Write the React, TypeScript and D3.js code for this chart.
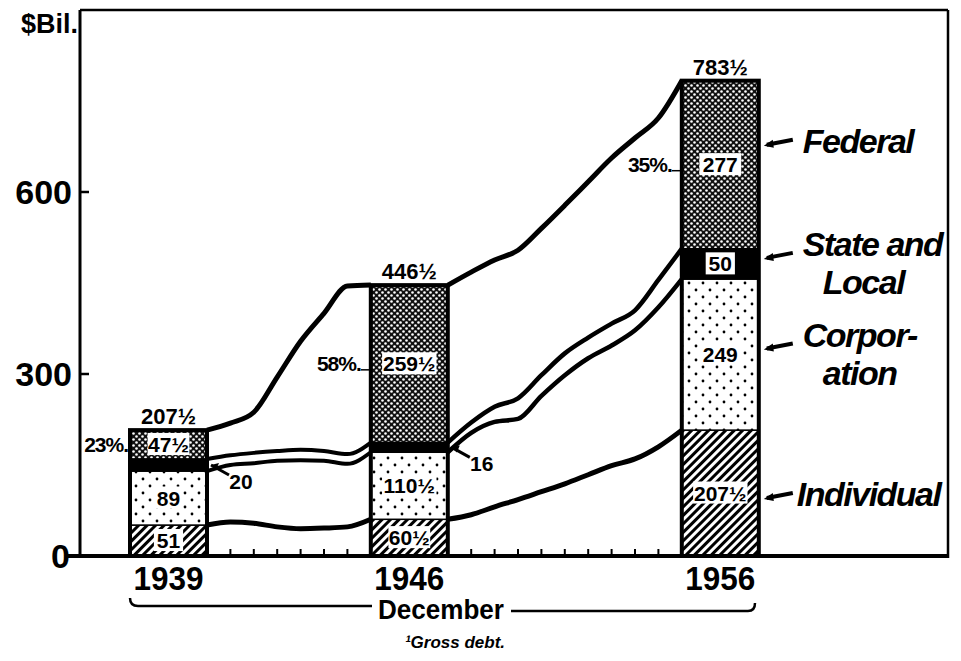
import React from 'react';
import * as d3 from 'd3';

// ---- data (billions of dollars, December) ----
const years = [1939, 1946, 1956];
const individual = [51, 60.5, 207.5];
const corporation = [89, 110.5, 249];
const stateLocal = [20, 16, 50];
const federal = [47.5, 259.5, 277];
const totalLabels = ['207½', '446½', '783½'];
const individualLabels = ['51', '60½', '207½'];
const corporationLabels = ['89', '110½', '249'];
const stateLabels = ['20', '16', '50'];
const federalLabels = ['47½', '259½', '277'];
const federalShare = ['23%.', '58%.', '35%.'];
const yTicks = [0, 300, 600];

// annual lines between bars
const years1 = [1939, 1940, 1941, 1942, 1943, 1944, 1945, 1946];
const total1 = [207.5, 219, 237, 295, 354, 400, 445, 446.5];
const stateTop1 = [160, 166, 170, 173, 175, 173, 168, 187];
const corpTop1 = [140, 150, 153, 157, 158, 157, 152, 171];
const indiv1 = [51, 56, 54, 48, 45, 46, 48, 60.5];

const years2 = [1946, 1947, 1948, 1949, 1950, 1951, 1952, 1953, 1954, 1955, 1956];
const total2 = [446.5, 468, 488, 504, 540, 578, 617, 656, 689, 722, 783.5];
const stateTop2 = [187, 220, 246, 260, 298, 334, 360, 383, 405, 455, 506.5];
const corpTop2 = [171, 203, 221, 226, 264, 298, 326, 347, 372, 410, 456.5];
const indiv2 = [60.5, 68, 81, 93, 106, 119, 134, 149, 160, 180, 207.5];

const legendNames = [['Individual'], ['Corpor-', 'ation'], ['State and', 'Local'], ['Federal']];

const FONT = '"Liberation Sans", Arial, sans-serif';

export default function App() {
  const y = d3.scaleLinear().domain([0, 600]).range([556, 192]);
  const barW = 77;
  const perYear = 23.4;
  const firstLeft = 130;
  const barLeft = years.map((yr, i) => firstLeft + i * barW + (yr - years[0]) * perYear);
  const segX = [0, 1].map((i) =>
    d3.scaleLinear().domain([years[i], years[i + 1]]).range([barLeft[i] + barW, barLeft[i + 1]])
  );

  const keys = ['individual', 'corporation', 'stateLocal', 'federal'];
  const table = years.map((yr, i) => ({
    year: yr,
    individual: individual[i],
    corporation: corporation[i],
    stateLocal: stateLocal[i],
    federal: federal[i],
  }));
  const series = d3.stack<any>().keys(keys)(table);
  const fills = ['url(#pIndiv)', 'url(#pCorp)', '#000', 'url(#pFed)'];
  const labelSets = [individualLabels, corporationLabels, stateLabels, federalLabels];

  const mk = (xs: number[], vs: number[], sx: d3.ScaleLinear<number, number>) => {
    const g = d3
      .line<[number, number]>()
      .x((d) => sx(d[0]))
      .y((d) => y(d[1]))
      .curve(d3.curveMonotoneX);
    return g(xs.map((x, i) => [x, vs[i]] as [number, number])) || '';
  };

  const linePaths = [
    { d: mk(years1, total1, segX[0]), w: 5 },
    { d: mk(years1, stateTop1, segX[0]), w: 4 },
    { d: mk(years1, corpTop1, segX[0]), w: 4 },
    { d: mk(years1, indiv1, segX[0]), w: 5 },
    { d: mk(years2, total2, segX[1]), w: 5 },
    { d: mk(years2, stateTop2, segX[1]), w: 4.5 },
    { d: mk(years2, corpTop2, segX[1]), w: 4.5 },
    { d: mk(years2, indiv2, segX[1]), w: 5 },
  ];

  const xTicks: number[] = [];
  [years1, years2].forEach((ys, s) => {
    ys.slice(1, -1).forEach((yr) => xTicks.push(segX[s](yr)));
  });

  const totals = years.map((_, i) => individual[i] + corporation[i] + stateLocal[i] + federal[i]);

  const label = (txt: string, cx: number, cy: number, fs: number, box: boolean, key: string) => {
    const w = txt.length * fs * 0.6 + 4;
    return (
      <g key={key}>
        {box && <rect x={cx - w / 2} y={cy - fs * 0.55} width={w} height={fs * 1.05} fill="#fff" />}
        <text
          x={cx}
          y={cy}
          dy="0.36em"
          textAnchor="middle"
          fontFamily={FONT}
          fontWeight="bold"
          fontSize={fs}
          fill="#000"
        >
          {txt}
        </text>
      </g>
    );
  };

  const legendY = [
    y(individual[2] / 2) + 3,
    y(individual[2] + corporation[2] / 2) - 8,
    y(individual[2] + corporation[2] + stateLocal[2] / 2) - 8,
    y(totals[2] - federal[2] / 2) - 22,
  ];

  return (
    <svg
      width={961}
      height={661}
      style={{ position: 'absolute', left: 0, top: 0, background: '#fff' }}
    >
      <defs>
        <pattern id="pFed" width="6" height="6" patternUnits="userSpaceOnUse">
          <rect width="6" height="6" fill="#111" />
          <circle cx="1.5" cy="1.5" r="1.3" fill="#fff" />
          <circle cx="4.5" cy="4.5" r="1.3" fill="#fff" />
        </pattern>
        <pattern id="pCorp" width="14" height="14" patternUnits="userSpaceOnUse">
          <rect width="14" height="14" fill="#fff" />
          <circle cx="3" cy="3" r="1.4" fill="#000" />
          <circle cx="10" cy="10" r="1.4" fill="#000" />
        </pattern>
        <pattern
          id="pIndiv"
          width="6"
          height="6"
          patternUnits="userSpaceOnUse"
          patternTransform="rotate(45)"
        >
          <rect width="6" height="6" fill="#fff" />
          <line x1="1.5" y1="0" x2="1.5" y2="6" stroke="#000" strokeWidth="3" />
        </pattern>
      </defs>

      {/* frame */}
      <line x1={80} y1={10} x2={948} y2={10} stroke="#000" strokeWidth={2.5} />
      <line x1={948} y1={10} x2={948} y2={558} stroke="#000" strokeWidth={2.5} />
      <line x1={80} y1={10} x2={80} y2={558} stroke="#000" strokeWidth={3} />
      <line x1={66} y1={y(0)} x2={948} y2={y(0)} stroke="#000" strokeWidth={4} />

      {/* y ticks */}
      {yTicks.map((t) => (
        <g key={t}>
          {t > 0 && <line x1={80} y1={y(t)} x2={89} y2={y(t)} stroke="#000" strokeWidth={2.5} />}
          <text
            x={t === 0 ? 70 : 72}
            y={y(t)}
            dy="0.36em"
            textAnchor="end"
            fontFamily={FONT}
            fontWeight="bold"
            fontSize={34}
            fill="#000"
          >
            {t}
          </text>
        </g>
      ))}
      <text x={78} y={33} textAnchor="end" fontFamily={FONT} fontWeight="bold" fontSize={27} fill="#000">
        $Bil.
      </text>

      {/* x ticks */}
      {xTicks.map((x, i) => (
        <line key={i} x1={x} y1={y(0)} x2={x} y2={y(0) - 7} stroke="#000" strokeWidth={2} />
      ))}

      {/* lines */}
      {linePaths.map((p, i) => (
        <path key={i} d={p.d} fill="none" stroke="#000" strokeWidth={p.w} strokeLinejoin="round" />
      ))}

      {/* bars */}
      {years.map((yr, i) => (
        <g key={yr}>
          {series.map((s, k) => (
            <rect
              key={k}
              x={barLeft[i]}
              y={y(s[i][1])}
              width={barW}
              height={y(s[i][0]) - y(s[i][1])}
              fill={fills[k]}
              stroke="#000"
              strokeWidth={1.5}
            />
          ))}
          <rect
            x={barLeft[i]}
            y={y(totals[i])}
            width={barW}
            height={y(0) - y(totals[i])}
            fill="none"
            stroke="#000"
            strokeWidth={4}
          />
          {series.map((s, k) => {
            if (k === 2 && i < 2) return null;
            const mid = (s[i][0] + s[i][1]) / 2;
            return label(labelSets[k][i], barLeft[i] + barW / 2, y(mid), 21, true, `l${k}`);
          })}
          {label(totalLabels[i], barLeft[i] + barW / 2, y(totals[i]) - 14, 22, false, 'tot')}
          {/* federal share */}
          <text
            x={barLeft[i] - (i === 0 ? 2 : 10)}
            y={y(totals[i] - federal[i] / 2)}
            dy="0.36em"
            textAnchor="end"
            fontFamily={FONT}
            fontWeight="bold"
            fontSize={21}
            letterSpacing={-1}
            fill="#000"
          >
            {federalShare[i]}
          </text>
          {i > 0 && (
            <line
              x1={barLeft[i] - 10}
              y1={y(totals[i] - federal[i] / 2) + 6}
              x2={barLeft[i]}
              y2={y(totals[i] - federal[i] / 2) + 6}
              stroke="#000"
              strokeWidth={1.5}
            />
          )}
          {/* year */}
          <text
            x={barLeft[i] + barW / 2}
            y={590}
            textAnchor="middle"
            fontFamily={FONT}
            fontWeight="bold"
            fontSize={34}
            textLength={70}
            lengthAdjust="spacingAndGlyphs"
            fill="#000"
          >
            {yr}
          </text>
        </g>
      ))}

      {/* outside state labels with arrows */}
      {[0, 1].map((i) => {
        const v = individual[i] + corporation[i] + stateLocal[i] / 2;
        const x0 = barLeft[i] + barW + 4;
        const y0 = y(v);
        return (
          <g key={`st${i}`}>
            <path
              d={`M${x0},${y0} L${x0 + 18},${y0 + 10}`}
              stroke="#000"
              strokeWidth={3}
              fill="none"
            />
            <path d={`M${x0},${y0} l8,-2 l-3,7 z`} fill="#000" />
            {label(stateLabels[i], x0 + 30, y0 + 16, 21, false, 'x')}
          </g>
        );
      })}

      {/* legend labels */}
      {legendNames.map((lines, k) => {
        const ly = legendY[k];
        const ax = barLeft[2] + barW + 8;
        return (
          <g key={k}>
            <path d={`M${ax},${ly + 2} L${ax + 26},${ly - 3}`} stroke="#000" strokeWidth={4} />
            <path d={`M${ax - 3},${ly + 3} l9,-6 l1,8 z`} fill="#000" />
            {lines.map((t, j) => (
              <text
                key={j}
                x={ax + 36 + (j > 0 ? 20 : 0) - (k === 0 ? 6 : 0)}
                y={ly - 14 + j * 38 + (lines.length === 1 ? 10 : 0) + 14}
                fontFamily={FONT}
                fontWeight="bold"
                fontStyle="italic"
                fontSize={34}
                letterSpacing={-1.5}
                fill="#000"
              >
                {t}
              </text>
            ))}
          </g>
        );
      })}

      {/* December bracket */}
      <path d="M130,598 Q130,606 138,606 L372,606" fill="none" stroke="#000" strokeWidth={2.5} />
      <text
        x={441}
        y={619}
        textAnchor="middle"
        fontFamily={FONT}
        fontWeight="bold"
        fontSize={28}
        textLength={126}
        lengthAdjust="spacingAndGlyphs"
        fill="#000"
      >
        December
      </text>
      <path d="M511,611 L748,611 Q755,611 755,603" fill="none" stroke="#000" strokeWidth={2.5} />
      <text
        x={455}
        y={648}
        textAnchor="middle"
        fontFamily={FONT}
        fontWeight="bold"
        fontStyle="italic"
        fontSize={17}
        fill="#000"
      >
        ¹Gross debt.
      </text>
    </svg>
  );
}
